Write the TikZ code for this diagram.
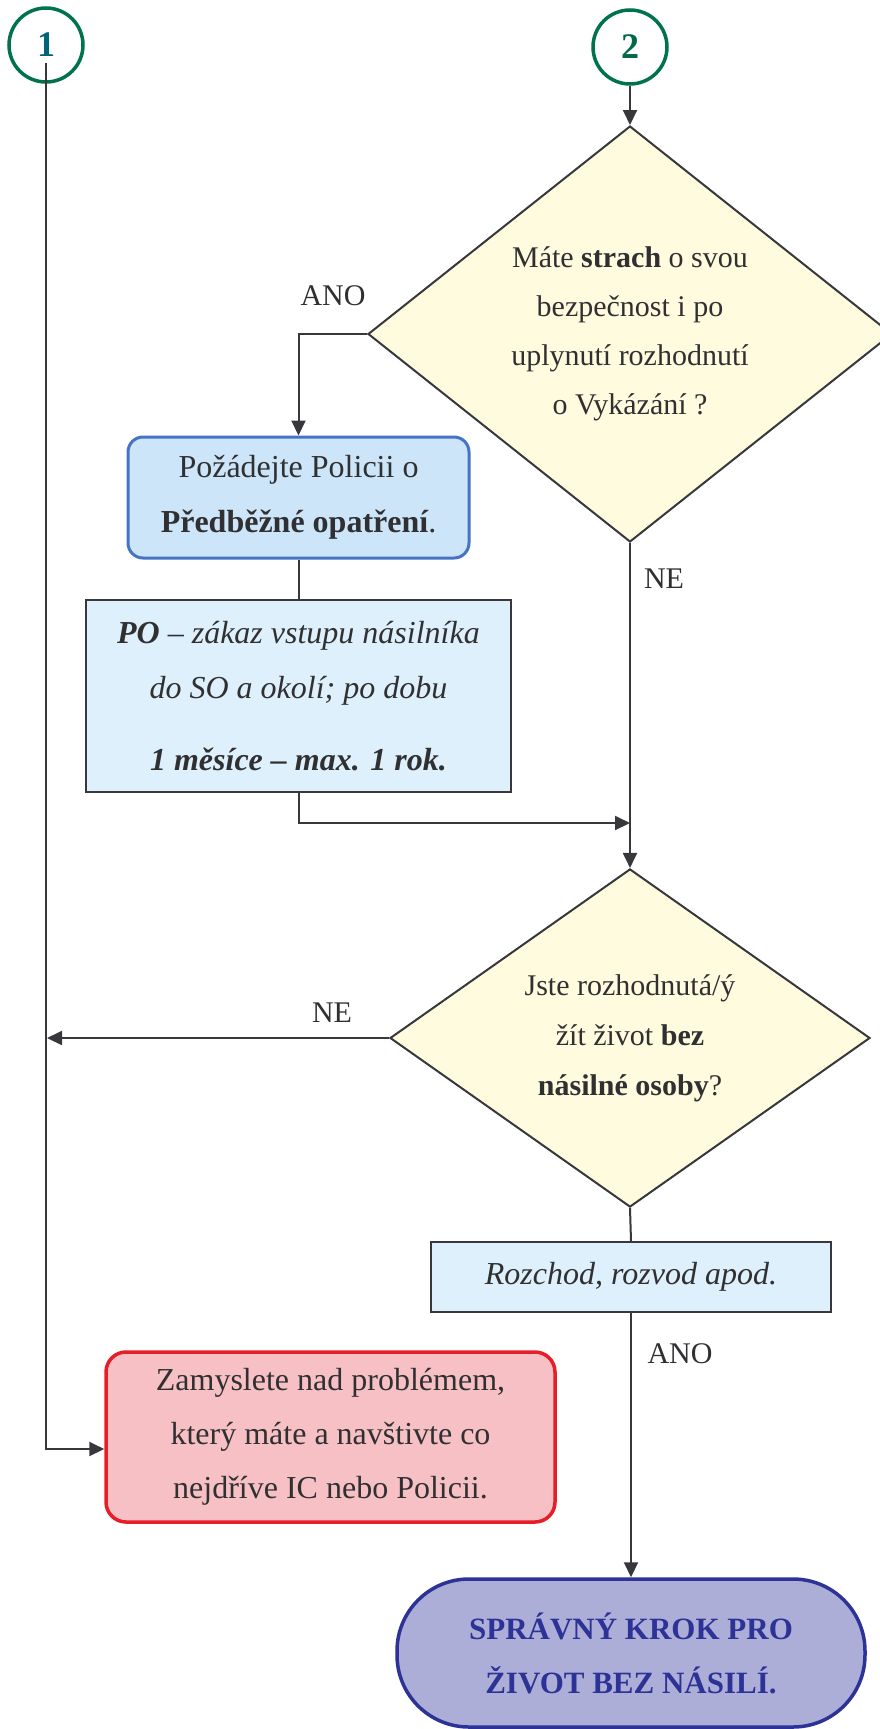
\documentclass[tikz,border=0pt]{standalone}
\usepackage{fontspec}
\setmainfont{Liberation Serif}
\usepackage{tikz}
\usetikzlibrary{shapes.geometric, arrows.meta, positioning}
\definecolor{lineclr}{RGB}{55,55,60}
\definecolor{textclr}{RGB}{48,48,50}
\definecolor{ringgreen}{RGB}{0,115,75}
\definecolor{numteal}{RGB}{0,100,120}
\definecolor{numgreen}{RGB}{0,105,70}
\definecolor{diafill}{RGB}{255,251,222}
\definecolor{polblue}{RGB}{70,115,195}
\definecolor{polfill}{RGB}{204,229,248}
\definecolor{notefill}{RGB}{222,240,252}
\definecolor{warnred}{RGB}{230,30,40}
\definecolor{warnfill}{RGB}{246,192,197}
\definecolor{goalblue}{RGB}{45,50,150}
\definecolor{goalfill}{RGB}{172,174,216}
\tikzset{
  >={Triangle[length=15pt,width=14pt]}, % filled arrow heads
  txt/.style={font=\fontsize{30}{54}\selectfont, text=textclr},
  flow/.style={draw=lineclr, line width=2pt},
  ring/.style={circle, draw=ringgreen, line width=3.5pt, minimum size=74pt, inner sep=0pt,
    font=\fontsize{36}{40}\selectfont\bfseries},
  decision/.style={txt, diamond, draw=lineclr, line width=2pt, fill=diafill, inner sep=0pt,
    align=center},
  police/.style={txt, rectangle, rounded corners=15pt, draw=polblue, line width=3pt,
    fill=polfill, align=center, font=\fontsize{32}{55}\selectfont},
  note/.style={txt, rectangle, draw=lineclr, line width=2pt, fill=notefill, align=center,
    font=\fontsize{32}{55}\selectfont\itshape},
  warn/.style={txt, rectangle, rounded corners=20pt, draw=warnred, line width=3.5pt,
    fill=warnfill, align=center, font=\fontsize{32}{54}\selectfont},
  goal/.style={rectangle, rounded corners=72pt, draw=goalblue, line width=3.5pt,
    fill=goalfill, align=center, text=goalblue, font=\fontsize{31}{54}\selectfont\bfseries}
}

\begin{document}
\begin{tikzpicture}[x=1pt, y=-1pt]
\useasboundingbox (0,0) rectangle (880,1729);

% start points
\node[ring, text=numteal] (c1) at (46,45) {1};
\node[ring, text=numgreen] (c2) at (630,47) {2};

% first question
\node[decision, minimum width=524pt, minimum height=416pt,
  font=\fontsize{30}{49}\selectfont] (fear) at (630,334)
  {M\'ate \textbf{strach} o svou\\bezpečnost i po\\uplynutí rozhodnutí\\o Vykázání ?};

% police
\node[police, minimum width=341pt, minimum height=121pt] (askpol) at (298.5,497.5)
  {Požádejte Policii o\\\textbf{Předběžné opatření}.};
\node[note, minimum width=425pt, minimum height=192pt] (poinfo) at (298.5,696)
  {\textbf{PO} -- zákaz vstupu násilníka\\do SO a okolí; po dobu\\[17pt]\textbf{1 měsíce -- max. 1 rok.}};

% second question
\node[decision, minimum width=480pt, minimum height=330pt,
  font=\fontsize{30}{50}\selectfont] (decide) at (630,1038)
  {Jste rozhodnutá/ý\\žít život \textbf{bez}\\\textbf{násilné osoby}?};
\node[note, minimum width=400pt, minimum height=70pt] (split) at (631,1277)
  {Rozchod, rozvod apod.};

% outcomes
\node[warn, minimum width=449pt, minimum height=170pt] (think) at (330.5,1437)
  {Zamyslete nad problémem,\\který máte a navštivte co\\nejdříve IC nebo Policii.};
\node[goal, minimum width=468pt, minimum height=148pt] (goal) at (631,1653)
  {SPRÁVNÝ KROK PRO\\ŽIVOT BEZ NÁSILÍ.};

% answer labels
\node[txt] (yes1) at (333,296) {ANO};
\node[txt] (no1) at (664,579) {NE};
\node[txt] (no2) at (332,1013) {NE};
\node[txt] (yes2) at (680,1354) {ANO};

\coordinate (merge) at (630,823);
\coordinate (left) at (47,1038);

% connectors
\draw[flow,->] (c2.south) -- (fear.north);
\draw[flow,->] (fear.west) -| (askpol.north);
\draw[flow] (askpol.south) -- (poinfo.north);
\draw[flow,->] (poinfo.south) |- (merge);
\draw[flow,->] (fear.south) -- (decide.north);
\draw[flow,->] (decide.west) -- (left);
\draw[flow] (decide.south) -- (split.north);
\draw[flow,->] (split.south) -- (goal.north);
\draw[flow,->] ([yshift=-18pt]c1.center) |- ([yshift=-12pt]think.west);

\end{tikzpicture}
\end{document}
